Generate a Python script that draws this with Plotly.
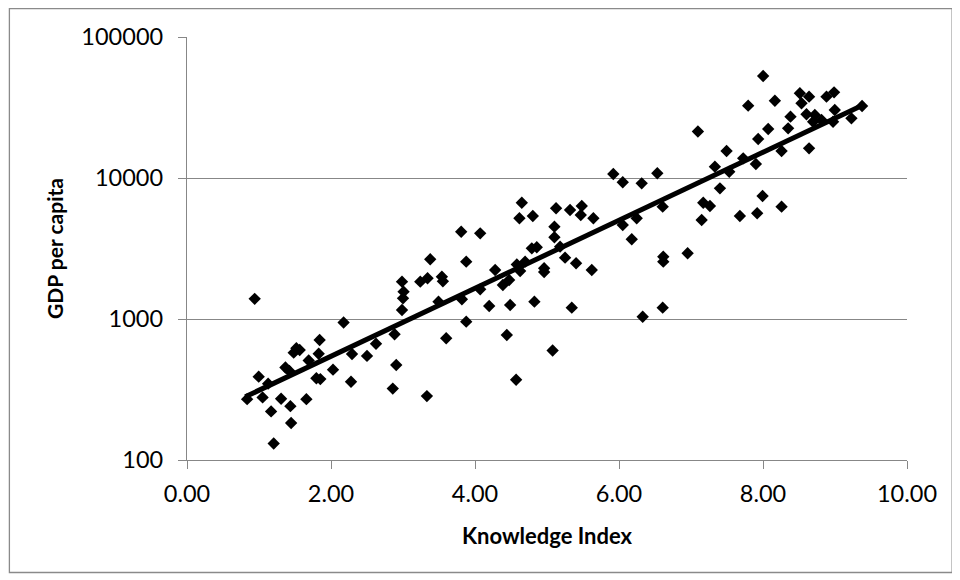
import plotly.graph_objects as go

knowledge_index = [
    0.835, 0.94, 0.996, 1.05, 1.127, 1.168, 1.204, 1.307, 1.367, 1.422,
    1.436, 1.446, 1.482, 1.519, 1.565, 1.658, 1.69, 1.842, 1.829, 1.797,
    1.852, 2.028, 2.175, 2.278, 2.292, 2.50, 2.625, 2.883, 2.906, 2.858,
    2.986, 3.008, 3.00, 2.986, 3.24, 3.341, 3.378, 3.54, 3.554, 3.493,
    3.60, 3.332, 3.808, 3.878, 3.818, 3.878, 4.072, 4.072, 4.197, 4.28,
    4.387, 4.474, 4.442, 4.488, 4.571, 4.581, 4.696, 4.627, 4.617, 4.65,
    4.803, 4.789, 4.858, 4.96, 4.96, 4.825, 5.078, 5.103, 5.103, 5.126,
    5.32, 5.483, 5.469, 5.644, 5.182, 5.251, 5.404, 5.622, 5.344, 5.921,
    6.052, 6.315, 6.532, 6.052, 6.246, 6.177, 6.607, 6.615, 6.615, 6.953,
    6.329, 6.607, 7.17, 7.263, 7.148, 7.332, 7.402, 7.096, 8.002, 7.794,
    8.165, 8.512, 8.64, 8.535, 8.882, 8.987, 8.997, 9.376, 9.228, 8.382,
    8.349, 8.604, 8.72, 8.696, 8.813, 8.973, 8.072, 7.933, 7.494, 7.725,
    7.901, 8.258, 8.64, 7.531, 7.679, 7.919, 7.994, 8.258,
]
gdp_per_capita = [
    270, 1390, 390, 278, 348, 221, 131, 272, 453, 428,
    241, 183, 577, 620, 603, 270, 508, 710, 567, 380,
    375, 437, 945, 359, 565, 547, 668, 779, 472, 321,
    1839, 1562, 1402, 1158, 1839, 1944, 2652, 1995, 1850, 1327,
    730, 284, 4160, 2550, 1380, 957, 4050, 1624, 1236, 2226,
    1742, 1890, 770, 1257, 371, 2436, 2550, 2190, 5180, 6680,
    5375, 3172, 3227, 2290, 2154, 1327, 598, 4515, 3798, 6100,
    5930, 6330, 5465, 5180, 3259, 2722, 2484, 2226, 1203, 10670,
    9325, 9170, 10800, 4640, 5180, 3675, 6260, 2767, 2550, 2924,
    1038, 1203, 6680, 6330, 5036, 12030, 8450, 21370, 52900, 32580,
    35330, 39880, 37730, 33870, 37730, 40520, 30350, 32400, 26500, 27220,
    22500, 28300, 27970, 25070, 25780, 25070, 22270, 18910, 15540, 13790,
    12570, 15540, 16240, 11080, 5375, 5620, 7450, 6260,
]

# exponential trendline end points (straight on the log axis)
trend_x = [0.81, 9.39]
trend_y = [281, 32900]

x_ticks = [0, 2, 4, 6, 8, 10]
x_tick_labels = ["0.00", "2.00", "4.00", "6.00", "8.00", "10.00"]
y_ticks = [100, 1000, 10000, 100000]
y_tick_labels = ["100", "1000", "10000", "100000"]

FONT = "Lato"
GRID = "#878787"

fig = go.Figure()
fig.add_trace(go.Scatter(
    x=knowledge_index, y=gdp_per_capita, mode="markers",
    marker=dict(symbol="diamond", size=9.5, color="black", line=dict(width=0)),
    showlegend=False, hoverinfo="x+y",
))
fig.add_trace(go.Scatter(
    x=trend_x, y=trend_y, mode="lines",
    line=dict(color="black", width=5),
    showlegend=False, hoverinfo="skip",
))

# the page body adds an 8 px offset, so the figure is 952 x 572
W, H = 952, 572
L, T = 178.5, 29
pw, ph = 720.8, 423
R, B = W - L - pw, H - T - ph

fig.update_layout(
    width=W, height=H,
    margin=dict(l=L, r=R, t=T, b=B, pad=0),
    paper_bgcolor="white", plot_bgcolor="white",
    font=dict(family=FONT, size=23.5, color="black"),
    xaxis=dict(
        range=[0, 10], tickvals=x_ticks, ticktext=x_tick_labels,
        showgrid=False, zeroline=False,
        showline=True, linecolor=GRID, linewidth=1.3,
        ticks="outside", ticklen=8, tickcolor=GRID, tickwidth=1.3,
        ticklabelstandoff=5,
        title=dict(text="<b>Knowledge Index</b>", font=dict(family=FONT, size=22), standoff=22),
    ),
    yaxis=dict(
        type="log", range=[2, 5], tickvals=y_ticks, ticktext=y_tick_labels,
        showgrid=True, gridcolor=GRID, gridwidth=1.3, zeroline=False,
        showline=True, linecolor=GRID, linewidth=1.3,
        ticks="outside", ticklen=8, tickcolor=GRID, tickwidth=1.3,
        ticklabelstandoff=10,
        title=dict(text="<b>GDP per capita</b>", font=dict(family=FONT, size=21), standoff=12),
    ),
    shapes=[dict(
        type="rect", xref="paper", yref="paper",
        x0=(0.7 - L) / pw, x1=(944.5 - L) / pw,
        y0=(H - B - 564.5) / ph, y1=(H - B - 0.7) / ph,
        line=dict(color="#8a8a8a", width=1.3), fillcolor="rgba(0,0,0,0)", layer="below",
    )],
)

fig.write_html("out.html")
